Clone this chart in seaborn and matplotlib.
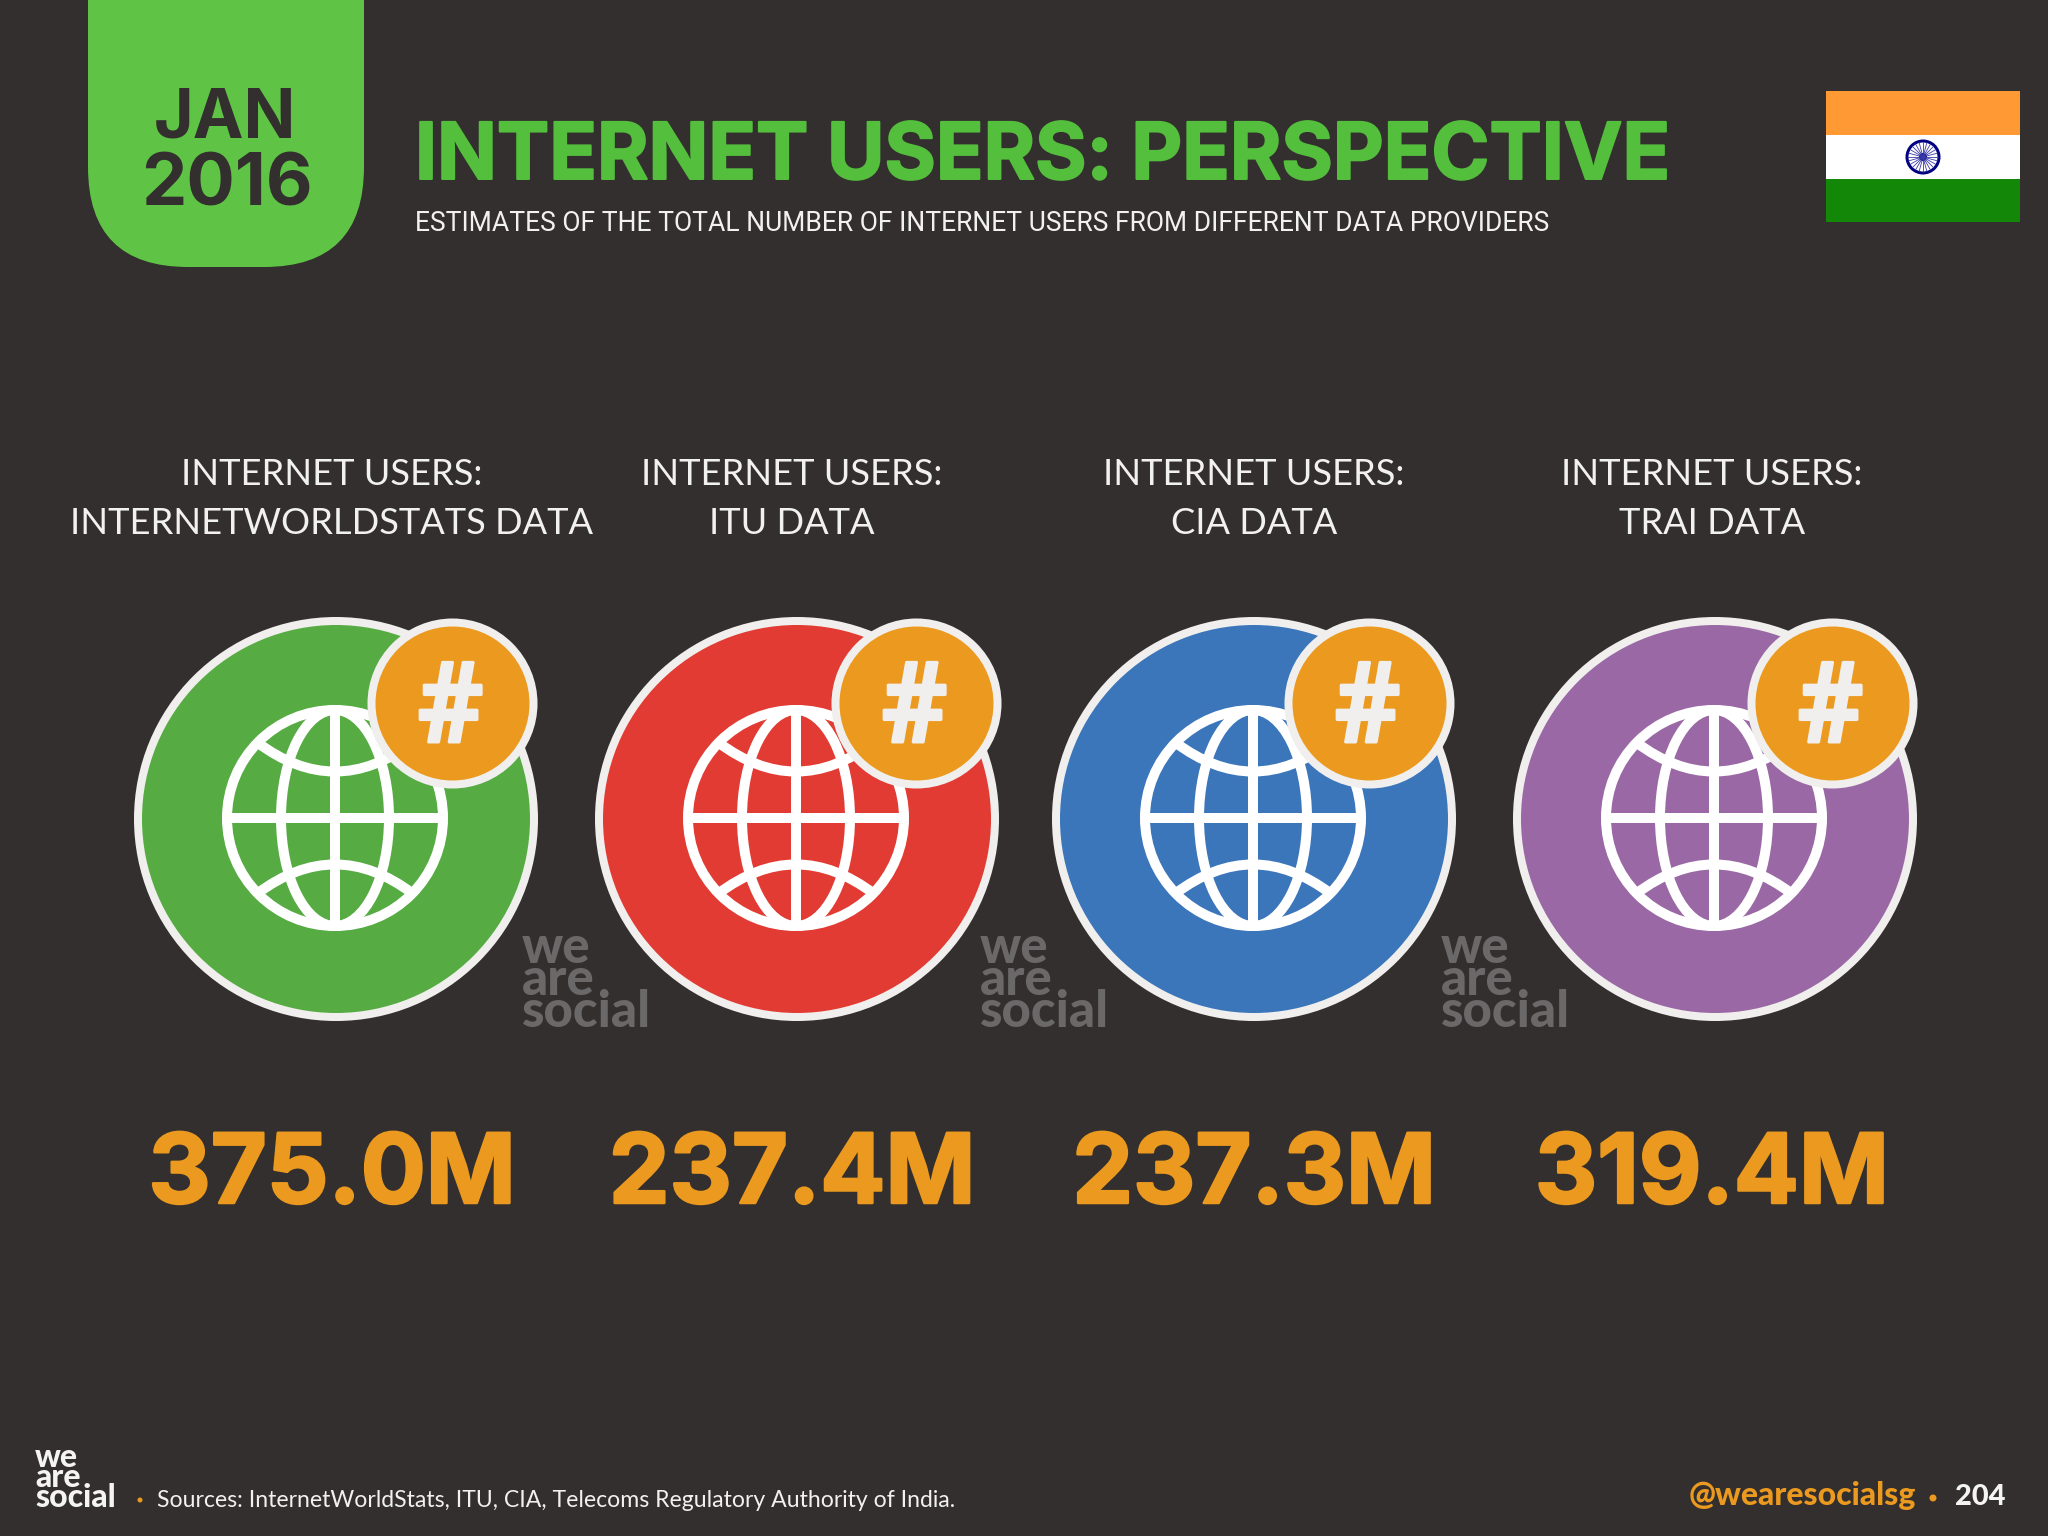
import numpy as np
import pandas as pd
import matplotlib.pyplot as plt
import matplotlib.patheffects as pe
import seaborn as sns
from matplotlib.patches import Circle, Ellipse, FancyBboxPatch, PathPatch, Rectangle
from matplotlib.path import Path

# Values from the slide
sources = ['INTERNETWORLDSTATS DATA', 'ITU DATA', 'CIA DATA', 'TRAI DATA']
users_m = [375.0, 237.4, 237.3, 319.4]
header = 'INTERNET USERS:'
title = 'INTERNET USERS: PERSPECTIVE'
subtitle = 'ESTIMATES OF THE TOTAL NUMBER OF INTERNET USERS FROM DIFFERENT DATA PROVIDERS'
footnote = 'Sources: InternetWorldStats, ITU, CIA, Telecoms Regulatory Authority of India.'

# Colours
BG = '#332f2e'
RING = '#f0efed'
ORANGE = '#eb9a1f'
circle_colors = ['#56ab42', '#e23b33', '#3b75ba', '#9a68a5']

# Layout in pixels of the 2048x1536 slide
text_x = [332, 792, 1254, 1712]
circle_x = [336, 797, 1254, 1715]
badge_x = [452, 916, 1369, 1832]
circle_y = 819
badge_y = 703
FONT = 'Lato'
HEAVY = 'Inter'

sns.set_theme(style='dark', rc={'figure.facecolor': BG, 'axes.facecolor': BG, 'savefig.facecolor': BG})
plt.rcParams['font.family'] = [FONT, 'DejaVu Sans']

fig = plt.figure(figsize=(20.48, 15.36), dpi=100)
ax = fig.add_axes([0, 0, 1, 1])
ax.set_xlim(0, 2048)
ax.set_ylim(1536, 0)
ax.axis('off')


def px(n):
    # pixels to points
    return n * 72 / 100


def scatter_size(diameter):
    return px(diameter) ** 2


def fatter(width, color):
    # the slide's typeface is heavier than the installed bold
    return [pe.withStroke(linewidth=px(width), foreground=color)]


def label(x, y, s, size, color='#f1f1f0', weight='normal', ha='center', **kw):
    ax.text(x, y, s, fontsize=px(size), color=color, fontweight=weight, ha=ha, va='baseline', **kw)


def draw_globe(cx, cy, r):
    lw = px(10)
    kw = dict(fill=False, edgecolor='white', linewidth=lw, zorder=3)
    ax.add_patch(Circle((cx, cy), r, **kw))
    ax.add_patch(Ellipse((cx, cy), r, 2 * r, **kw))
    ax.plot([cx, cx], [cy - r, cy + r], color='white', lw=lw, zorder=3)
    ax.plot([cx - r, cx + r], [cy, cy], color='white', lw=lw, zorder=3)
    # the two latitude arcs bow towards the equator
    for sign in (-1, 1):
        verts = [(cx - 0.72 * r, cy + sign * 0.70 * r),
                 (cx, cy + sign * 0.16 * r),
                 (cx + 0.72 * r, cy + sign * 0.70 * r)]
        ax.add_patch(PathPatch(Path(verts, [Path.MOVETO, Path.CURVE3, Path.CURVE3]), **kw))


def draw_logo(x, y, size, color):
    # y is the baseline of the last line
    step = size * 0.63
    label(x, y - 2 * step, 'we', size, color, 'black', ha='left')
    label(x, y - step, 'are', size, color, 'black', ha='left')
    label(x, y, 'social', size, color, 'black', ha='left')


# Date tab
ax.add_patch(FancyBboxPatch((88, -120), 276, 387, boxstyle='round,pad=0,rounding_size=100',
                            facecolor='#5fc446', edgecolor='none'))
label(225, 137, 'JAN', 68, BG, 'bold', family=HEAVY)
label(227, 205, '2016', 72, BG, 'bold', family=HEAVY)

# Heading
label(415, 179, title, 78.5, '#54be3d', 'bold', ha='left', family=HEAVY, path_effects=fatter(2, '#54be3d'))
label(415, 231, subtitle, 26.5, ha='left', family='Roboto')

# Flag
ax.add_patch(Rectangle((1826, 91), 194, 44, facecolor='#ff9933', edgecolor='none'))
ax.add_patch(Rectangle((1826, 135), 194, 44, facecolor='white', edgecolor='none'))
ax.add_patch(Rectangle((1826, 179), 194, 43, facecolor='#138808', edgecolor='none'))
ax.add_patch(Circle((1923, 157), 16, fill=False, edgecolor='#000080', linewidth=px(3)))
ax.add_patch(Circle((1923, 157), 4, facecolor='#000080', edgecolor='none'))
for a in np.arange(24) * np.pi / 12:
    ax.plot([1923, 1923 + 15 * np.cos(a)], [157, 157 + 15 * np.sin(a)], color='#3a3aa8', lw=0.6)

# Big circles and badges
circles = pd.DataFrame({'source': sources, 'x': circle_x, 'y': circle_y})
sns.scatterplot(data=circles, x='x', y='y', hue='source', palette=circle_colors, s=scatter_size(396),
                edgecolor=RING, linewidth=px(8), legend=False, ax=ax, zorder=2, clip_on=False)
for x in circle_x:
    draw_globe(x - 1, circle_y - 1, 108)

badges = pd.DataFrame({'x': badge_x, 'y': badge_y})
sns.scatterplot(data=badges, x='x', y='y', color=ORANGE, s=scatter_size(162),
                edgecolor=RING, linewidth=px(8), legend=False, ax=ax, zorder=4, clip_on=False)
ax.set_xlabel('')
ax.set_ylabel('')
for x in badge_x:
    ax.text(x - 2, badge_y + 39, '#', fontsize=px(112), color=RING, fontweight='bold',
            ha='center', va='baseline', zorder=5, family='Roboto', path_effects=fatter(3, RING))

# Column text
for x, name, value in zip(text_x, sources, users_m):
    label(x, 485, header, 36.2)
    label(x, 534, name, 36.2)
    label(x, 1203, f'{value:.1f}M', 96.5, ORANGE, 'bold', family=HEAVY, path_effects=fatter(2.5, ORANGE))

# Watermarks
for x in [522, 980, 1441]:
    draw_logo(x, 1027, 51, '#6a6868')

# Footer
draw_logo(35, 1507, 32, '#f4f4f3')
ax.add_patch(Circle((140, 1500), 2.5, facecolor=ORANGE, edgecolor='none'))
label(157, 1507, footnote, 23, ha='left')
label(1689, 1505, '@wearesocialsg', 32, ORANGE, 'black', ha='left')
ax.add_patch(Circle((1933, 1498), 3.5, facecolor=ORANGE, edgecolor='none'))
label(1955, 1505, '204', 29, '#f4f4f3', 'black', ha='left')

fig.savefig('out.png', dpi=100)
